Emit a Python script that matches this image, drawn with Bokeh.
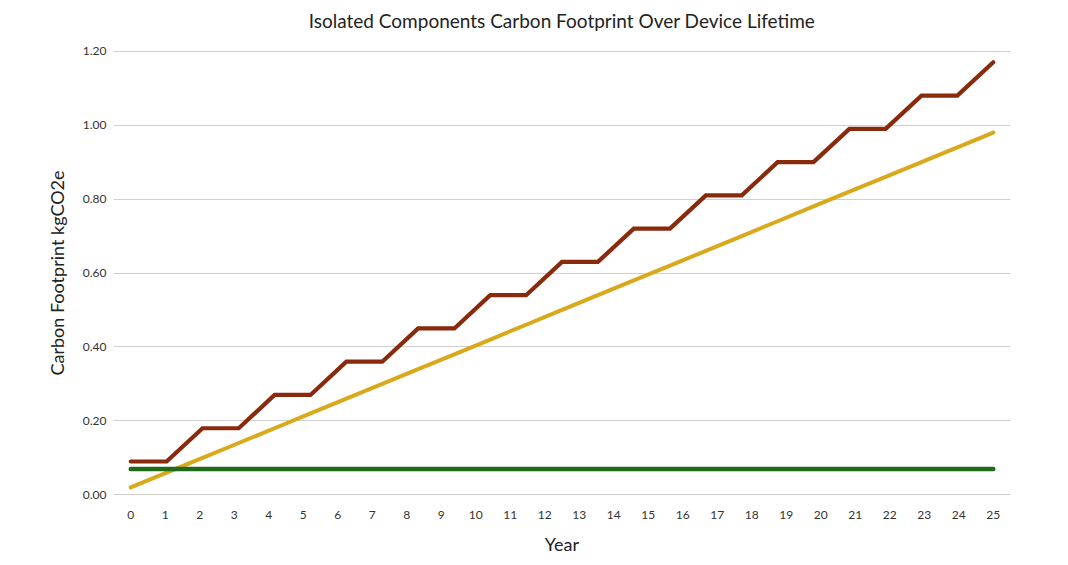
from bokeh.plotting import figure
from bokeh.embed import file_html
from bokeh.resources import INLINE
from bokeh.models import Range1d, FixedTicker, Title, NumeralTickFormatter

# data: 25 sample points spread evenly over 25 years
years = [0.00, 1.04, 2.08, 3.13, 4.17, 5.21, 6.25, 7.29, 8.33, 9.38, 10.42, 11.46,
         12.50, 13.54, 14.58, 15.63, 16.67, 17.71, 18.75, 19.79, 20.83, 21.88,
         22.92, 23.96, 25.00]
series_red = [0.09, 0.09, 0.18, 0.18, 0.27, 0.27, 0.36, 0.36, 0.45, 0.45, 0.54, 0.54,
              0.63, 0.63, 0.72, 0.72, 0.81, 0.81, 0.90, 0.90, 0.99, 0.99, 1.08, 1.08, 1.17]
series_yellow = [0.02, 0.06, 0.10, 0.14, 0.18, 0.22, 0.26, 0.30, 0.34, 0.38, 0.42, 0.46,
                 0.50, 0.54, 0.58, 0.62, 0.66, 0.70, 0.74, 0.78, 0.82, 0.86, 0.90, 0.94, 0.98]
series_green = [0.07] * 25
x_ticks = list(range(0, 26))
y_ticks = [0.0, 0.2, 0.4, 0.6, 0.8, 1.0, 1.2]
title_text = "Isolated Components Carbon Footprint Over Device Lifetime"

FONT = "Lato"

p = figure(width=1068, height=565, output_backend="svg", toolbar_location=None,
           x_range=Range1d(-0.5, 25.5), y_range=Range1d(-0.002, 1.202),
           min_border_left=113, min_border_right=58, min_border_top=50,
           min_border_bottom=70)
p.outline_line_color = None
p.background_fill_color = "white"
p.border_fill_color = "white"

# spacer between plot area and title
spacer = Title(text=" ", text_font_size="1px", standoff=11)
p.add_layout(spacer, "above")
t = Title(text=title_text, align="center", text_font=FONT,
          text_font_size="19px", text_font_style="normal",
          text_color="#222222", standoff=10)
p.add_layout(t, "above")

p.line(years, series_red, line_color="#8a2a0c", line_width=4.2,
       line_cap="round", line_join="miter")
p.line(years, series_yellow, line_color="#d9a91c", line_width=4,
       line_cap="round")
p.line(years, series_green, line_color="#1f6a16", line_width=4.5,
       line_cap="round")

p.xaxis.ticker = FixedTicker(ticks=x_ticks)
p.yaxis.ticker = FixedTicker(ticks=y_ticks)
p.yaxis.formatter = NumeralTickFormatter(format="0.00")

for ax in (p.xaxis, p.yaxis):
    ax.axis_line_color = None
    ax.major_tick_line_color = None
    ax.minor_tick_line_color = None
    ax.major_label_text_font = FONT
    ax.major_label_text_font_size = "12px"
    ax.major_label_text_color = "#333333"
    ax.axis_label_text_font = FONT
    ax.axis_label_text_font_size = "18px"
    ax.axis_label_text_font_style = "normal"
    ax.axis_label_text_color = "#222222"

p.xaxis.axis_label = "Year"
p.yaxis.axis_label = "Carbon Footprint kgCO2e"
p.xaxis.major_label_standoff = 9
p.xaxis.axis_label_standoff = 11
p.yaxis.major_label_standoff = 1
p.yaxis.axis_label_standoff = 12

p.xgrid.grid_line_color = None
p.ygrid.grid_line_color = "#d0d0d0"
p.ygrid.grid_line_width = 1

open("out.html", "w").write(file_html(p, INLINE))
